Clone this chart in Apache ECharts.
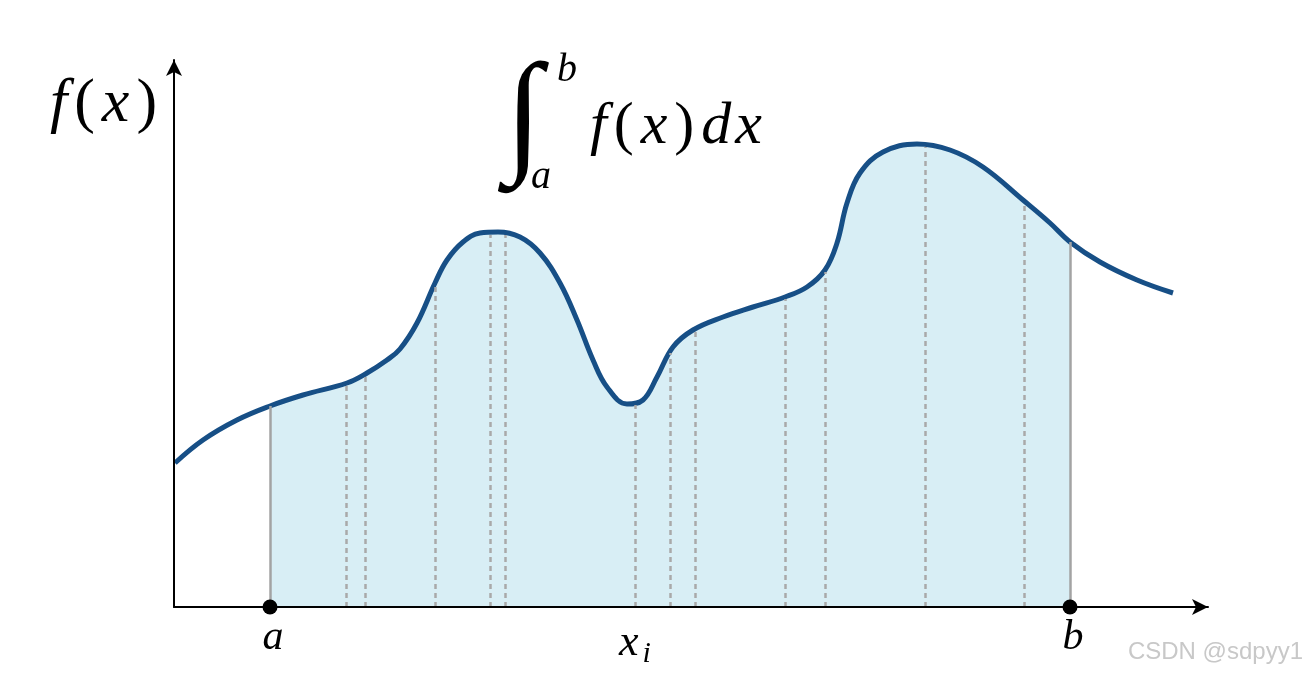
<!DOCTYPE html>
<html>
<head>
<meta charset="utf-8">
<script src="https://cdn.jsdelivr.net/npm/echarts@6/dist/echarts.min.js"></script>
<style>
html,body{margin:0;padding:0;background:#fff;}
#c{width:1308px;height:675px;}
</style>
</head>
<body>
<div id="c"></div>
<script>
// curve f(x) (x, f(x))
const curveX = [1, 29, 63, 96, 129, 173, 193, 213, 226, 243, 261, 273, 289, 306, 324, 346, 366, 386, 403, 419, 433, 453, 469, 483, 499, 519, 549, 579, 611, 633, 651, 663, 673, 686, 709, 743, 776, 809, 849, 876, 896, 926, 963, 999];
const curveY = [144, 167, 187, 201, 212, 224, 234, 247, 258, 284, 324, 347, 365, 374, 375, 370, 354, 324, 287, 247, 220, 203, 207, 230, 260, 277, 290, 300, 310, 320, 337, 364, 404, 434, 455, 463, 457, 440, 407, 384, 365, 345, 327, 314];
// integration bounds
const boundA = 96, boundB = 896;
const boundLabels = ['a', 'b'];
// sample points x_i and f(x_i)
const sampleX = [172, 191, 261, 316, 331, 461, 496, 521, 611, 651, 751, 850];
const sampleY = [222, 231, 320, 372, 372, 202, 254, 276, 308, 335, 460, 404];
const sampleLabelX = 461;
const sampleLabel = 'x_i';

const curve = curveX.map((x, i) => [x, curveY[i]]);
const areaPts = curve.filter(p => p[0] >= boundA && p[0] <= boundB);
const fA = curveY[curveX.indexOf(boundA)];
const fB = curveY[curveX.indexOf(boundB)];

const chart = echarts.init(document.getElementById('c'), null, {renderer: 'canvas'});
const serif = '"Liberation Serif", "DejaVu Serif", serif';

const option = {
  animation: false,
  backgroundColor: '#ffffff',
  grid: {left: 174, right: 100, top: 60, bottom: 68},
  xAxis: {
    type: 'value', min: 0, max: 1034, z: 5,
    axisLine: {show: true, onZero: false, symbol: ['none', 'arrow'], symbolSize: [12, 16], lineStyle: {color: '#000', width: 2}},
    axisTick: {show: false}, axisLabel: {show: false}, splitLine: {show: false}
  },
  yAxis: {
    type: 'value', min: 0, max: 547, z: 5,
    axisLine: {show: true, onZero: false, symbol: ['none', 'arrow'], symbolSize: [12, 16], lineStyle: {color: '#000', width: 2}},
    axisTick: {show: false}, axisLabel: {show: false}, splitLine: {show: false}
  },
  series: [
    {
      type: 'line', data: areaPts, smooth: 0.4, symbol: 'none', z: 1,
      lineStyle: {width: 0}, areaStyle: {color: '#d8eef5', opacity: 1},
      markLine: {
        silent: true, symbol: ['none', 'none'], label: {show: false},
        lineStyle: {color: '#a3a3a3', width: 2.5, type: 'solid'},
        data: [
          [{coord: [boundA, 0]}, {coord: [boundA, fA]}],
          [{coord: [boundB, 0]}, {coord: [boundB, fB]}]
        ]
      }
    },
    {
      type: 'line', data: [], z: 2,
      markLine: {
        silent: true, symbol: ['none', 'none'], label: {show: false},
        lineStyle: {color: '#a9a9a9', width: 2.5, type: [5, 4]},
        data: sampleX.map((x, i) => [{coord: [x, 0]}, {coord: [x, sampleY[i]]}])
      }
    },
    {
      type: 'line', data: curve, smooth: 0.4, symbol: 'none', z: 3,
      lineStyle: {color: '#174f86', width: 5}
    },
    {
      type: 'scatter', z: 10, symbol: 'circle', symbolSize: 15,
      itemStyle: {color: '#000', opacity: 1},
      data: [[boundA, 0], [boundB, 0]].map((p, i) => ({value: p, name: boundLabels[i]})),
      label: {
        show: true, position: 'bottom', distance: 2,
        formatter: p => p.name,
        fontFamily: serif, fontStyle: 'italic', fontSize: 42, color: '#000', opacity: 1,
        padding: [0, 0, 0, 6]
      }
    },
    {
      type: 'scatter', z: 10, symbolSize: 0,
      itemStyle: {opacity: 1},
      data: [{value: [sampleLabelX, 0], name: sampleLabel}],
      label: {
        show: true, position: 'bottom', distance: 10,
        formatter: () => '{x|x}{i|i}',
        rich: {
          x: {fontFamily: serif, fontStyle: 'italic', fontSize: 44, color: '#000'},
          i: {fontFamily: serif, fontStyle: 'italic', fontSize: 30, color: '#000', padding: [22, 0, 0, 4]}
        }
      }
    }
  ],
  graphic: [
    {
      type: 'text', left: 50, top: 74,
      style: {
        text: '{it|f}{up|(}{it|x}{up|)}',
        rich: {
          it: {fontFamily: serif, fontStyle: 'italic', fontSize: 62, fill: '#000', padding: [0, 2, 0, 2]},
          up: {fontFamily: serif, fontSize: 62, fill: '#000', padding: [0, 5, 0, 5]}
        }
      }
    },
    {
      type: 'text', left: 505, top: 54,
      style: {text: '\u222B', fontFamily: serif, fontSize: 135, fill: '#000'}
    },
    {
      type: 'text', left: 557, top: 50,
      style: {text: 'b', fontFamily: serif, fontStyle: 'italic', fontSize: 40, fill: '#000'}
    },
    {
      type: 'text', left: 531, top: 157,
      style: {text: 'a', fontFamily: serif, fontStyle: 'italic', fontSize: 40, fill: '#000'}
    },
    {
      type: 'text', left: 590, top: 97,
      style: {
        text: '{it|f}{up|(}{it|x}{up|)}{it|d}{it|x}',
        rich: {
          it: {fontFamily: serif, fontStyle: 'italic', fontSize: 60, fill: '#000', padding: [0, 2, 0, 2]},
          up: {fontFamily: serif, fontSize: 60, fill: '#000', padding: [0, 5, 0, 5]}
        }
      }
    },
    {
      type: 'text', right: 5, top: 640,
      style: {text: 'CSDN @sdpyy1', fontFamily: '"Liberation Sans", Arial, sans-serif', fontSize: 24, fill: '#c8c8c8'}
    }
  ]
};
chart.setOption(option);
</script>
</body>
</html>
